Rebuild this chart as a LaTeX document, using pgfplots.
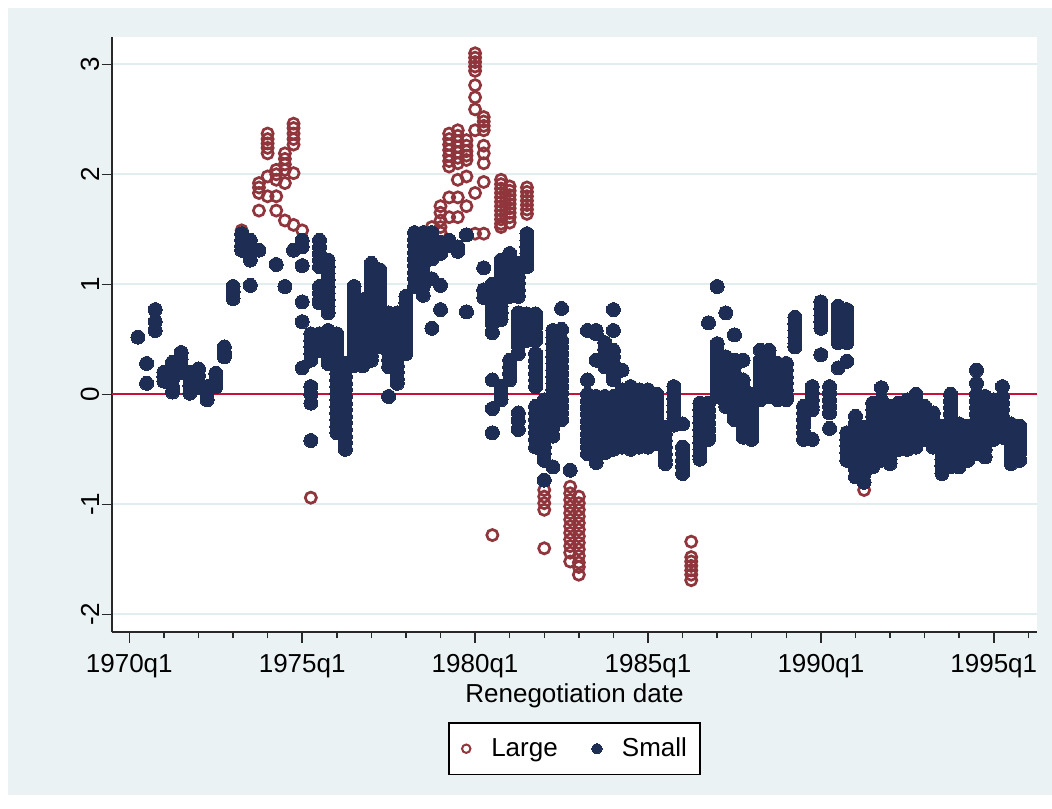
\documentclass[border=0pt]{standalone}
\usepackage{fontspec}
\setmainfont{Liberation Sans}
\usepackage{pgfplots}
\pgfplotsset{compat=1.18}
\definecolor{bgc}{RGB}{234,242,243}
\definecolor{gridc}{RGB}{226,237,239}
\definecolor{lrg}{RGB}{144,53,59}
\definecolor{sml}{RGB}{30,45,84}
\definecolor{zline}{RGB}{200,16,56}
\definecolor{axc}{RGB}{40,40,40}
\pgfplotsset{
 lrgimg/.style={legend image code/.code={\path[draw=none,fill=none] (-0.5pt,-4pt) rectangle (12.5pt,4pt); \draw[##1, mark size=2.1pt, mark options={draw=lrg, line width=1pt}] plot coordinates {(0pt,0pt)};}},
 smlimg/.style={legend image code/.code={\path[draw=none,fill=none] (-0.5pt,-4pt) rectangle (12.5pt,4pt); \draw[##1, mark size=2.6pt] plot coordinates {(0pt,0pt)};}},
}
\begin{document}
\begin{tikzpicture}
\fill[white] (0,0) rectangle (526pt,404pt);
\fill[bgc] (4pt,6.5pt) rectangle (526pt,400pt);
\begin{axis}[
 at={(56pt,88pt)}, anchor=south west,
 scale only axis, width=462.5pt, height=297.5pt,
 xmin=38, xmax=145, ymin=-2.161, ymax=3.248,
 axis background/.style={fill=white},
 axis x line*=bottom, axis y line*=left,
 axis line style={axc, line width=0.75pt, -},
 xtick={40,60,80,100,120,140},
 xticklabels={1970q1,1975q1,1980q1,1985q1,1990q1,1995q1},
 minor xtick={44,48,52,56,64,68,72,76,84,88,92,96,104,108,112,116,124,128,132,136,144},
 ytick={-2,-1,0,1,2,3},
 yticklabels={-2,-1,0,1,2,3},
 tick align=outside,
 major tick length=5.25pt, minor tick length=3pt,
 tick style={axc, line width=0.75pt},
 ymajorgrids, grid style={gridc, line width=1.2pt},
 ticklabel style={font=\fontsize{13}{15.6}\selectfont},
 xticklabel style={yshift=-2.5pt},
 yticklabel style={rotate=90, anchor=south, inner sep=1pt},
 xlabel={Renegotiation date},
 xlabel style={font=\fontsize{13}{15.6}\selectfont, at={(axis description cs:0.5,0)}, anchor=north, inner sep=0pt, yshift=-25.5pt},
 legend columns=2,
 legend style={at={(0.5,-0.1513)}, anchor=north, draw=black, line width=0.75pt, fill=white,
   font=\fontsize{13}{15.6}\selectfont, inner xsep=6.5pt, inner ysep=7.5pt,
   nodes={inner sep=0pt}, column sep=0pt,
   /tikz/every even column/.append style={column sep=17pt}},
 legend cell align=left,
]
\addplot[zline, line width=1.2pt, forget plot] coordinates {(38,0) (145,0)};

\addplot[only marks, mark=o, mark size=2.8pt, mark options={draw=lrg, line width=1.35pt}, lrgimg]
coordinates {
(53,1.49)
(55,1.92) (55,1.88) (55,1.83) (55,1.67)
(56,2.37) (56,2.32) (56,2.28) (56,2.24) (56,2.19) (56,1.98) (56,1.80)
(57,2.04) (57,2.00) (57,1.95) (57,1.80) (57,1.67)
(58,2.19) (58,2.14) (58,2.09) (58,2.04) (58,1.92) (58,1.58)
(59,2.46) (59,2.42) (59,2.37) (59,2.32) (59,2.27) (59,2.01) (59,1.54)
(60,1.49)
(61,-0.94)
(74,1.46) (75,1.52) (75,1.47)
(76,1.71) (76,1.65) (76,1.58) (76,1.52) (76,1.47)
(77,2.37) (77,2.32) (77,2.27) (77,2.22) (77,2.17) (77,2.12) (77,2.07) (77,1.79) (77,1.61)
(78,2.40) (78,2.35) (78,2.30) (78,2.25) (78,2.20) (78,2.15) (78,2.10) (78,1.95) (78,1.79) (78,1.61)
(79,2.31) (79,2.26) (79,2.21) (79,2.17) (79,2.13) (79,1.98) (79,1.71)
(80,3.10) (80,3.06) (80,3.02) (80,2.98) (80,2.94) (80,2.81) (80,2.70) (80,2.59) (80,2.40) (80,1.83) (80,1.46)
(81,2.52) (81,2.48) (81,2.44) (81,2.40) (81,2.26) (81,2.19) (81,2.10) (81,1.93) (81,1.46)
(82,-1.28)
(83,1.95) (83,1.91) (83,1.87) (83,1.83) (83,1.79) (83,1.75) (83,1.71) (83,1.67) (83,1.63) (83,1.59) (83,1.55) (83,1.52)
(84,1.89) (84,1.85) (84,1.81) (84,1.77) (84,1.73) (84,1.69) (84,1.65) (84,1.61) (84,1.56)
(86,1.88) (86,1.84) (86,1.80) (86,1.76) (86,1.72) (86,1.68) (86,1.64)
(88,-0.87) (88,-0.93) (88,-0.99) (88,-1.05) (88,-1.40)
(91,-0.84) (91,-0.90) (91,-0.96) (91,-1.02) (91,-1.08) (91,-1.14) (91,-1.20) (91,-1.26) (91,-1.32) (91,-1.38) (91,-1.44) (91,-1.52)
(92,-0.93) (92,-0.99) (92,-1.05) (92,-1.11) (92,-1.17) (92,-1.23) (92,-1.29) (92,-1.35) (92,-1.41) (92,-1.47) (92,-1.53) (92,-1.57) (92,-1.64)
(105,-1.34) (105,-1.48) (105,-1.52) (105,-1.56) (105,-1.60) (105,-1.64) (105,-1.69)
(125,-0.87)
};
\addlegendentry{Large}

\addplot[only marks, mark=*, mark size=3.5pt, mark options={draw=sml, fill=sml, line width=0pt}, smlimg]
coordinates {
(41,0.52) (42,0.28) (42,0.10) (43,0.77) (43,0.66) (43,0.58)
(44,0.20) (44,0.16) (44,0.12)
(45,0.29) (45,0.22) (45,0.14) (45,0.07) (45,0.02)
(46,0.38) (46,0.32) (46,0.26) (46,0.20)
(47,0.20) (47,0.14) (47,0.08) (47,0.01)
(48,0.23) (48,0.17) (48,0.11) (48,0.06)
(49,0.07) (49,0.01) (49,-0.05)
(50,0.19) (50,0.13) (50,0.07)
(51,0.43) (51,0.38) (51,0.34)
(52,0.98) (52,0.93) (52,0.87)
(53,1.46) (53,1.40) (53,1.35) (53,1.31)
(54,1.40) (54,1.34) (54,1.28) (54,1.22) (54,0.99)
(55,1.31) (57,1.18) (58,0.98) (59,1.31)
(60,1.40) (60,1.34) (60,1.17) (60,0.84) (60,0.66) (60,0.24)
(61,0.55) (61,0.49) (61,0.43) (61,0.37) (61,0.31) (61,0.07) (61,0.00) (61,-0.08) (61,-0.42)
(62,1.40) (62,1.34) (62,1.28) (62,1.22) (62,1.16) (62,0.98) (62,0.92) (62,0.86) (62,0.83) (62,0.55) (62,0.47) (62,0.40)
(63,1.22) (63,1.16) (63,1.10) (63,1.04) (63,0.98) (63,0.92) (63,0.86) (63,0.80) (63,0.74) (63,0.58) (63,0.52) (63,0.46) (63,0.40) (63,0.34) (63,0.28)
(64,0.55) (64,0.49) (64,0.43) (64,0.37) (64,0.25) (64,0.19) (64,0.13) (64,0.07) (64,0.01) (64,-0.05) (64,-0.11) (64,-0.17) (64,-0.23) (64,-0.29) (64,-0.35)
(65,0.28) (65,0.22) (65,0.16) (65,0.10) (65,0.04) (65,-0.02) (65,-0.08) (65,-0.14) (65,-0.20) (65,-0.26) (65,-0.32) (65,-0.38) (65,-0.44) (65,-0.50)
(66,0.98) (66,0.92) (66,0.86) (66,0.80) (66,0.74) (66,0.68) (66,0.62) (66,0.56) (66,0.50) (66,0.44) (66,0.38) (66,0.32) (66,0.26)
(67,0.86) (67,0.80) (67,0.74) (67,0.68) (67,0.62) (67,0.56) (67,0.50) (67,0.44) (67,0.38) (67,0.32) (67,0.26)
(68,1.19) (68,1.13) (68,1.07) (68,1.01) (68,0.95) (68,0.89) (68,0.83) (68,0.77) (68,0.71) (68,0.65) (68,0.59) (68,0.53) (68,0.47) (68,0.41) (68,0.35) (68,0.31)
(69,1.13) (69,1.07) (69,1.01) (69,0.95) (69,0.89) (69,0.83) (69,0.77) (69,0.71) (69,0.65) (69,0.59) (69,0.53) (69,0.47) (69,0.43)
(70,0.74) (70,0.68) (70,0.62) (70,0.56) (70,0.50) (70,0.44) (70,0.38) (70,0.31) (70,0.25) (70,-0.02)
(71,0.74) (71,0.68) (71,0.62) (71,0.56) (71,0.50) (71,0.44) (71,0.38) (71,0.32) (71,0.26) (71,0.20) (71,0.14) (71,0.10)
(72,0.89) (72,0.83) (72,0.77) (72,0.71) (72,0.65) (72,0.59) (72,0.53) (72,0.47) (72,0.41) (72,0.37)
(73,1.47) (73,1.41) (73,1.35) (73,1.29) (73,1.23) (73,1.17) (73,1.11) (73,1.05) (73,0.98)
(74,1.47) (74,1.41) (74,1.35) (74,1.29) (74,1.23) (74,1.17) (74,1.11) (74,1.05) (74,0.98) (74,0.90)
(75,1.47) (75,1.41) (75,1.35) (75,1.29) (75,1.23) (75,1.05) (75,0.60)
(76,1.38) (76,1.33) (76,1.28) (76,0.99) (76,0.77)
(77,1.40) (77,1.35) (78,1.34) (78,1.30) (79,1.45) (79,0.75)
(81,1.15) (81,0.95) (81,0.88)
(82,1.00) (82,0.94) (82,0.88) (82,0.82) (82,0.76) (82,0.70) (82,0.64) (82,0.56) (82,0.13) (82,-0.13) (82,-0.35)
(83,1.22) (83,1.16) (83,1.10) (83,1.04) (83,0.98) (83,0.92) (83,0.86) (83,0.80) (83,0.74) (83,0.68) (83,0.07) (83,0.01) (83,-0.05)
(84,1.28) (84,1.22) (84,1.16) (84,1.10) (84,1.04) (84,0.98) (84,0.92) (84,0.89) (84,0.31) (84,0.25) (84,0.19) (84,0.13)
(85,1.19) (85,1.13) (85,1.07) (85,1.01) (85,0.95) (85,0.89) (85,0.74) (85,0.68) (85,0.62) (85,0.56) (85,0.50) (85,0.44) (85,0.37) (85,-0.17) (85,-0.24) (85,-0.32)
(86,1.46) (86,1.40) (86,1.34) (86,1.28) (86,1.22) (86,1.16) (86,0.73) (86,0.67) (86,0.61) (86,0.55) (86,0.49)
(87,0.73) (87,0.67) (87,0.61) (87,0.55) (87,0.49) (87,0.37) (87,0.31) (87,0.25) (87,0.19) (87,0.13) (87,0.07) (87,-0.11) (87,-0.17) (87,-0.23) (87,-0.29) (87,-0.35) (87,-0.41) (87,-0.48)
(88,-0.05) (88,-0.11) (88,-0.17) (88,-0.23) (88,-0.29) (88,-0.35) (88,-0.41) (88,-0.48) (88,-0.54) (88,-0.60) (88,-0.78)
(89,0.58) (89,0.52) (89,0.46) (89,0.40) (89,0.34) (89,0.28) (89,0.22) (89,0.16) (89,0.10) (89,0.04) (89,-0.02) (89,-0.08) (89,-0.14) (89,-0.20) (89,-0.30) (89,-0.38) (89,-0.66)
(90,0.78) (90,0.59) (90,0.49) (90,0.43) (90,0.37) (90,0.31) (90,0.25) (90,0.19) (90,0.13) (90,0.07) (90,0.01) (90,-0.05) (90,-0.11) (90,-0.17) (90,-0.23)
(91,-0.69)
(93,0.58) (93,0.13) (93,0.00) (93,-0.06) (93,-0.12) (93,-0.18) (93,-0.24) (93,-0.30) (93,-0.36) (93,-0.42) (93,-0.48) (93,-0.54)
(94,0.58) (94,0.55) (94,0.31) (94,-0.02) (94,-0.08) (94,-0.14) (94,-0.20) (94,-0.26) (94,-0.32) (94,-0.38) (94,-0.44) (94,-0.50) (94,-0.56) (94,-0.62)
(95,0.47) (95,0.41) (95,0.35) (95,0.29) (95,0.25) (95,-0.02) (95,-0.08) (95,-0.14) (95,-0.20) (95,-0.26) (95,-0.32) (95,-0.38) (95,-0.44) (95,-0.50) (95,-0.53)
(96,0.77) (96,0.58) (96,0.40) (96,0.34) (96,0.28) (96,0.22) (96,0.16) (96,0.13) (96,-0.02) (96,-0.08) (96,-0.14) (96,-0.20) (96,-0.26) (96,-0.32) (96,-0.38) (96,-0.44) (96,-0.50)
(97,0.22) (97,0.04) (97,-0.02) (97,-0.08) (97,-0.14) (97,-0.20) (97,-0.26) (97,-0.32) (97,-0.38) (97,-0.44) (97,-0.48)
(98,0.07) (98,0.01) (98,-0.05) (98,-0.11) (98,-0.17) (98,-0.23) (98,-0.29) (98,-0.35) (98,-0.41) (98,-0.47) (98,-0.50)
(99,0.04) (99,-0.02) (99,-0.08) (99,-0.14) (99,-0.20) (99,-0.26) (99,-0.32) (99,-0.38) (99,-0.44) (99,-0.48)
(100,0.04) (100,-0.02) (100,-0.08) (100,-0.14) (100,-0.20) (100,-0.26) (100,-0.32) (100,-0.38) (100,-0.44) (100,-0.48)
(101,0.00) (101,-0.06) (101,-0.12) (101,-0.18) (101,-0.24) (101,-0.30) (101,-0.36) (101,-0.42) (101,-0.45)
(102,-0.30) (102,-0.36) (102,-0.42) (102,-0.48) (102,-0.54) (102,-0.60) (102,-0.63)
(103,0.07) (103,0.02) (103,-0.04) (103,-0.10) (103,-0.16) (103,-0.22) (103,-0.28)
(104,-0.27) (104,-0.48) (104,-0.54) (104,-0.60) (104,-0.66) (104,-0.72)
(106,-0.08) (106,-0.14) (106,-0.20) (106,-0.26) (106,-0.32) (106,-0.38) (106,-0.44) (106,-0.50) (106,-0.56) (106,-0.59)
(107,0.65) (107,-0.08) (107,-0.14) (107,-0.20) (107,-0.26) (107,-0.32) (107,-0.38) (107,-0.41)
(108,0.98) (108,0.46) (108,0.40) (108,0.34) (108,0.28) (108,0.22) (108,0.16) (108,0.10) (108,0.04) (108,-0.02)
(109,0.74) (109,0.34) (109,0.28) (109,0.22) (109,0.16) (109,0.10) (109,0.04) (109,-0.02) (109,-0.08) (109,-0.11)
(110,0.54) (110,0.31) (110,0.25) (110,0.19) (110,0.13) (110,0.07) (110,0.01) (110,-0.05) (110,-0.11) (110,-0.17) (110,-0.23)
(111,0.31) (111,0.13) (111,0.07) (111,0.01) (111,-0.05) (111,-0.11) (111,-0.17) (111,-0.23) (111,-0.29) (111,-0.35) (111,-0.39)
(112,0.00) (112,-0.06) (112,-0.12) (112,-0.18) (112,-0.24) (112,-0.30) (112,-0.36) (112,-0.41)
(113,0.40) (113,0.31) (113,0.25) (113,0.19) (113,0.13) (113,0.07) (113,0.01) (113,-0.05)
(114,0.40) (114,0.34) (114,0.28) (114,0.22) (114,0.16) (114,0.10) (114,0.04) (114,-0.02)
(115,0.28) (115,0.22) (115,0.16) (115,0.10) (115,0.04) (115,-0.02) (115,-0.05)
(116,0.28) (116,0.22) (116,0.16) (116,0.10) (116,0.04) (116,-0.02) (116,-0.05)
(117,0.70) (117,0.64) (117,0.58) (117,0.52) (117,0.46) (117,0.43)
(118,-0.11) (118,-0.17) (118,-0.23) (118,-0.29) (118,-0.35) (118,-0.41)
(119,0.07) (119,0.01) (119,-0.05) (119,-0.11) (119,-0.14) (119,-0.41)
(120,0.84) (120,0.78) (120,0.72) (120,0.66) (120,0.60) (120,0.36)
(121,0.07) (121,0.01) (121,-0.05) (121,-0.11) (121,-0.17) (121,-0.31)
(122,0.80) (122,0.74) (122,0.68) (122,0.62) (122,0.56) (122,0.50) (122,0.47) (122,0.24)
(123,0.77) (123,0.71) (123,0.65) (123,0.59) (123,0.53) (123,0.47) (123,0.30) (123,-0.35) (123,-0.41) (123,-0.47) (123,-0.53) (123,-0.60)
(124,-0.20) (124,-0.26) (124,-0.32) (124,-0.38) (124,-0.44) (124,-0.50) (124,-0.56) (124,-0.62) (124,-0.68) (124,-0.75)
(125,-0.30) (125,-0.36) (125,-0.42) (125,-0.48) (125,-0.54) (125,-0.60) (125,-0.66) (125,-0.72) (125,-0.80)
(126,-0.08) (126,-0.14) (126,-0.20) (126,-0.26) (126,-0.32) (126,-0.38) (126,-0.44) (126,-0.50) (126,-0.56) (126,-0.62) (126,-0.66)
(127,0.06) (127,-0.05) (127,-0.11) (127,-0.17) (127,-0.23) (127,-0.29) (127,-0.35) (127,-0.41) (127,-0.47) (127,-0.53) (127,-0.60)
(128,-0.11) (128,-0.17) (128,-0.23) (128,-0.29) (128,-0.35) (128,-0.41) (128,-0.47) (128,-0.53) (128,-0.59) (128,-0.63)
(129,-0.08) (129,-0.14) (129,-0.20) (129,-0.26) (129,-0.32) (129,-0.38) (129,-0.44) (129,-0.50)
(130,-0.05) (130,-0.11) (130,-0.17) (130,-0.23) (130,-0.29) (130,-0.35) (130,-0.41) (130,-0.47) (130,-0.50)
(131,0.00) (131,-0.06) (131,-0.12) (131,-0.18) (131,-0.24) (131,-0.30) (131,-0.36) (131,-0.42) (131,-0.48)
(132,-0.11) (132,-0.17) (132,-0.23) (132,-0.29) (132,-0.35) (132,-0.41)
(133,-0.17) (133,-0.23) (133,-0.29) (133,-0.35) (133,-0.41) (133,-0.48)
(134,-0.29) (134,-0.35) (134,-0.41) (134,-0.47) (134,-0.53) (134,-0.59) (134,-0.65) (134,-0.72)
(135,0.00) (135,-0.06) (135,-0.12) (135,-0.18) (135,-0.24) (135,-0.30) (135,-0.36) (135,-0.42) (135,-0.48) (135,-0.54) (135,-0.60) (135,-0.66)
(136,-0.27) (136,-0.33) (136,-0.39) (136,-0.45) (136,-0.51) (136,-0.57) (136,-0.63) (136,-0.66)
(137,-0.29) (137,-0.35) (137,-0.41) (137,-0.47) (137,-0.53) (137,-0.60)
(138,0.22) (138,0.10) (138,0.00) (138,-0.06) (138,-0.12) (138,-0.18) (138,-0.24) (138,-0.30) (138,-0.36) (138,-0.42) (138,-0.48) (138,-0.54)
(139,-0.02) (139,-0.08) (139,-0.14) (139,-0.20) (139,-0.26) (139,-0.32) (139,-0.38) (139,-0.44) (139,-0.50) (139,-0.57)
(140,-0.05) (140,-0.11) (140,-0.17) (140,-0.23) (140,-0.29) (140,-0.35) (140,-0.41)
(141,0.07) (141,-0.02) (141,-0.08) (141,-0.14) (141,-0.20) (141,-0.26) (141,-0.32) (141,-0.39)
(142,-0.27) (142,-0.33) (142,-0.39) (142,-0.45) (142,-0.51) (142,-0.57) (142,-0.63)
(143,-0.29) (143,-0.35) (143,-0.41) (143,-0.47) (143,-0.53) (143,-0.60)
};
\addlegendentry{Small}
\end{axis}
\pgfresetboundingbox
\useasboundingbox (0,0) rectangle (526pt,404pt);
\end{tikzpicture}
\end{document}
